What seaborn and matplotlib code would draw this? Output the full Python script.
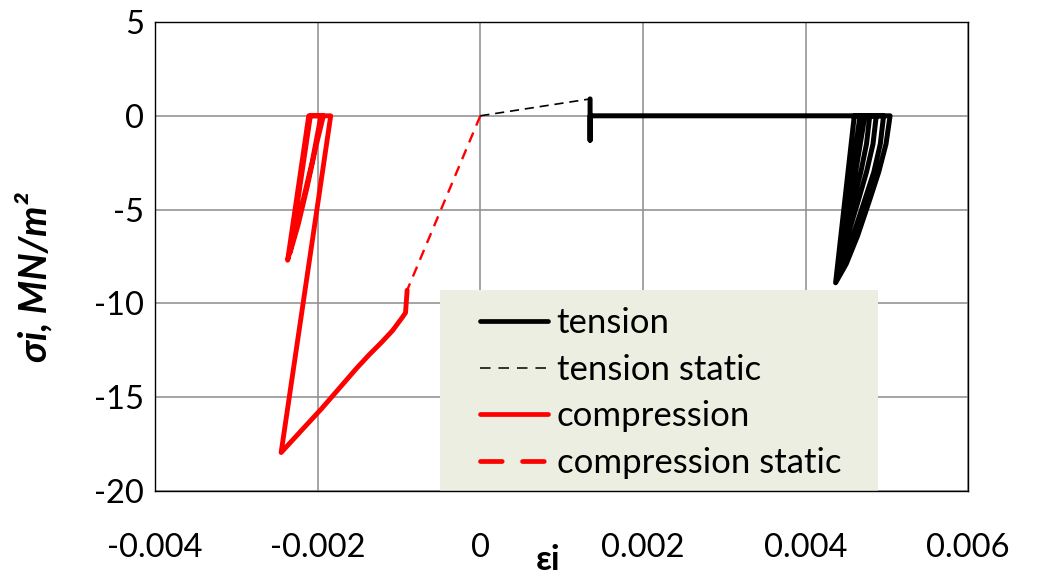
import numpy as np
import pandas as pd
import matplotlib
matplotlib.use("Agg")
import matplotlib.pyplot as plt
from matplotlib.lines import Line2D
from matplotlib.patches import Rectangle
import seaborn as sns

# ---- data ----
tension_static_x = [0.0, 0.00135]
tension_static_y = [0.0, 0.9]

compression_static_x = [0.0, -0.00090]
compression_static_y = [0.0, -9.3]

tension_x = [0.00135, 0.00135, 0.00135, 0.00504,
             0.00499, 0.00490, 0.00478, 0.00464, 0.00450, 0.00437,
             0.00460, 0.00496,
             0.00492, 0.00484, 0.00472, 0.00459, 0.00447, 0.00440,
             0.00467, 0.00487,
             0.00483, 0.00475, 0.00465, 0.00454, 0.00446, 0.00443,
             0.00473, 0.00479,
             0.00475, 0.00468, 0.00459, 0.00451, 0.00446,
             0.00470]
tension_y = [0.9, -1.3, 0.0, 0.0,
             -1.5, -3.0, -4.6, -6.4, -7.9, -8.9,
             0.0, 0.0,
             -1.5, -3.0, -4.6, -6.3, -7.7, -8.4,
             0.0, 0.0,
             -1.5, -3.0, -4.5, -6.1, -7.3, -7.9,
             0.0, 0.0,
             -1.5, -3.0, -4.5, -6.0, -7.1,
             0.0]

compression_x = [-0.00090, -0.00092, -0.00096, -0.00108, -0.00122, -0.00137, -0.00152,
                 -0.00166, -0.00180, -0.00195, -0.00211, -0.00228, -0.00245,
                 -0.00184, -0.00211, -0.00237,
                 -0.00228, -0.00218, -0.00207, -0.00196,
                 -0.00209, -0.00234,
                 -0.00224, -0.00213, -0.00202, -0.00193]
compression_y = [-9.3, -10.5, -10.75, -11.45, -12.1, -12.75, -13.45,
                 -14.15, -14.85, -15.6, -16.35, -17.15, -17.95,
                 0.0, 0.0, -7.7,
                 -6.2, -4.5, -2.5, 0.0,
                 0.0, -7.3,
                 -5.8, -3.8, -1.6, 0.0]

x_ticks = [-0.004, -0.002, 0.0, 0.002, 0.004, 0.006]
x_tick_labels = ["-0.004", "-0.002", "0", "0.002", "0.004", "0.006"]
y_ticks = [-20, -15, -10, -5, 0, 5]
y_tick_labels = ["-20", "-15", "-10", "-5", "0", "5"]

legend_labels = ["tension", "tension static", "compression", "compression static"]

# ---- style ----
sns.set_theme(style="whitegrid")
FAM = ["Lato", "DejaVu Sans"]
plt.rcParams["font.family"] = FAM

fig = plt.figure(figsize=(10.41, 5.79), dpi=100)
ax = fig.add_axes([0.149, 0.152, 0.781, 0.810])
ax.set_facecolor("white")

ts = pd.DataFrame({"x": tension_static_x, "y": tension_static_y})
cs = pd.DataFrame({"x": compression_static_x, "y": compression_static_y})
tt = pd.DataFrame({"x": tension_x, "y": tension_y})
cc = pd.DataFrame({"x": compression_x, "y": compression_y})

sns.lineplot(data=cs, x="x", y="y", sort=False, estimator=None, ax=ax,
             color="#FF0000", lw=1.7, linestyle=(0, (4.5, 3.2)), zorder=3)
sns.lineplot(data=ts, x="x", y="y", sort=False, estimator=None, ax=ax,
             color="black", lw=1.2, linestyle=(0, (5.5, 3.5)), zorder=3)
sns.lineplot(data=cc, x="x", y="y", sort=False, estimator=None, ax=ax,
             color="#FF0000", lw=3.5, solid_joinstyle="round", solid_capstyle="round", zorder=4)
sns.lineplot(data=tt, x="x", y="y", sort=False, estimator=None, ax=ax,
             color="black", lw=3.6, solid_joinstyle="round", solid_capstyle="round", zorder=4)

ax.set_xlim(-0.004, 0.006)
ax.set_ylim(-20, 5)
ax.set_xticks(x_ticks)
ax.set_xticklabels(x_tick_labels)
ax.set_yticks(y_ticks)
ax.set_yticklabels(y_tick_labels)
ax.tick_params(axis="both", length=0, labelsize=23.5, colors="black", labelcolor="black")
ax.tick_params(axis="x", pad=30)
ax.tick_params(axis="y", pad=8)
ax.grid(True, color="#8C8C8C", lw=1.1)
ax.set_axisbelow(True)
for s in ax.spines.values():
    s.set_visible(True)
    s.set_color("black")
    s.set_linewidth(1.0)

ax.set_xlabel("εi", fontsize=25, fontweight="bold", color="black")
ax.xaxis.set_label_coords(0.483, -0.112)
ax.set_ylabel("σi, MN/m²", fontsize=27.5, fontweight="bold", style="italic", color="black")
ax.yaxis.set_label_coords(-0.126, 0.455)

# legend background box
ax.add_patch(Rectangle((0.351, 0.0), 0.538, 0.429, transform=ax.transAxes,
                       facecolor="#EBEEE0", edgecolor="none", zorder=2))

handles = [
    Line2D([], [], color="black", lw=3.4, solid_capstyle="round"),
    Line2D([], [], color="black", lw=1.1, linestyle=(0, (6.9, 5.2))),
    Line2D([], [], color="#FF0000", lw=3.4, solid_capstyle="round"),
    Line2D([], [], color="#FF0000", lw=3.4, linestyle=(0, (4.6, 4.3)), dash_capstyle="round"),
]
leg = ax.legend(handles, legend_labels, loc="upper left",
                bbox_to_anchor=(0.385, 0.418), frameon=False,
                fontsize=25, handlelength=1.96, handletextpad=0.24,
                labelspacing=0.42, borderpad=0.35, borderaxespad=0,
                labelcolor="black")
leg.set_zorder(5)

fig.savefig("out.png", dpi=100)
